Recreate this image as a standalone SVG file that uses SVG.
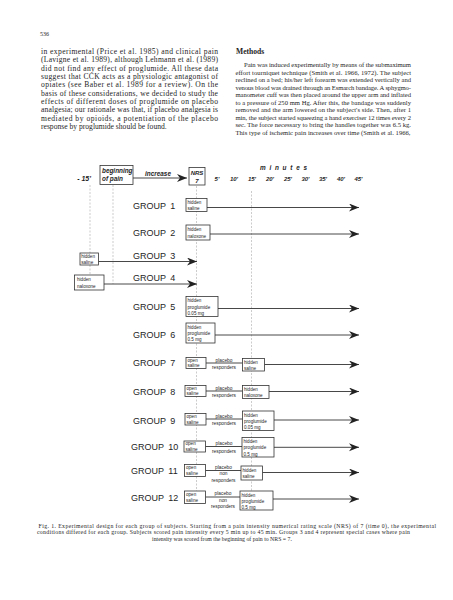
<svg xmlns="http://www.w3.org/2000/svg" width="453" height="600" viewBox="0 0 453 600">
<defs>
<marker id="ah" markerUnits="userSpaceOnUse" markerWidth="11" markerHeight="9" refX="10" refY="4" orient="auto">
<path d="M0,0 L10,4 L0,8 L3,4 Z" fill="#222"/>
</marker>
</defs>
<style>
.body{font-family:"Liberation Serif","Times New Roman",serif;fill:#1e1e1e}
.lc{font-size:7.6px}
.rc{font-size:6.6px}
.cap{font-size:5.8px}
.hd{font-family:"Liberation Sans",Arial,sans-serif;font-weight:bold;font-style:italic;fill:#1e1e1e}
.grp{font-family:"Liberation Sans",Arial,sans-serif;font-size:9px;fill:#1e1e1e;word-spacing:2px}
.bx{fill:#fff;stroke:#333;stroke-width:0.8}
.bt{font-family:"Liberation Sans",Arial,sans-serif;font-size:4.6px;fill:#1e1e1e}
.pt{font-family:"Liberation Sans",Arial,sans-serif;font-size:4.8px;fill:#1e1e1e;text-anchor:middle}
.ln{stroke:#333;stroke-width:0.9;fill:none}
.ar{stroke:#333;stroke-width:0.9;fill:none;marker-end:url(#ah)}
.dl{stroke:#aaa;stroke-width:0.6;stroke-dasharray:2,1.5;fill:none}
</style>
<rect width="453" height="600" fill="#fff"/>

<!-- page text -->
<text class="body" x="40" y="35.5" font-size="6">536</text>
<g class="body lc">
<text x="41" y="54" textLength="177" lengthAdjust="spacing">in experimental (Price et al. 1985) and clinical pain</text>
<text x="41" y="62.3" textLength="177" lengthAdjust="spacing">(Lavigne et al. 1989), although Lehmann et al. (1989)</text>
<text x="41" y="70.7" textLength="177" lengthAdjust="spacing">did not find any effect of proglumide. All these data</text>
<text x="41" y="79" textLength="177" lengthAdjust="spacing">suggest that CCK acts as a physiologic antagonist of</text>
<text x="41" y="87.3" textLength="177" lengthAdjust="spacing">opiates (see Baber et al. 1989 for a review). On the</text>
<text x="41" y="95.7" textLength="177" lengthAdjust="spacing">basis of these considerations, we decided to study the</text>
<text x="41" y="104" textLength="177" lengthAdjust="spacing">effects of different doses of proglumide on placebo</text>
<text x="41" y="112.3" textLength="177" lengthAdjust="spacing">analgesia; our rationale was that, if placebo analgesia is</text>
<text x="41" y="120.7" textLength="177" lengthAdjust="spacing">mediated by opioids, a potentiation of the placebo</text>
<text x="41" y="129">response by proglumide should be found.</text>
</g>
<text class="body" x="236" y="54" font-size="7.6" font-weight="bold">Methods</text>
<g class="body rc">
<text x="244" y="67" textLength="167" lengthAdjust="spacing">Pain was induced experimentally by means of the submaximum</text>
<text x="235.5" y="74.5" textLength="175.5" lengthAdjust="spacing">effort tourniquet technique (Smith et al. 1966, 1972). The subject</text>
<text x="235.5" y="82" textLength="175.5" lengthAdjust="spacing">reclined on a bed; his/her left forearm was extended vertically and</text>
<text x="235.5" y="89.5" textLength="175.5" lengthAdjust="spacing">venous blood was drained through an Esmarch bandage. A sphygmo-</text>
<text x="235.5" y="97" textLength="175.5" lengthAdjust="spacing">manometer cuff was then placed around the upper arm and inflated</text>
<text x="235.5" y="104.5" textLength="175.5" lengthAdjust="spacing">to a pressure of 250 mm Hg. After this, the bandage was suddenly</text>
<text x="235.5" y="112" textLength="175.5" lengthAdjust="spacing">removed and the arm lowered on the subject's side. Then, after 1</text>
<text x="235.5" y="119.5" textLength="175.5" lengthAdjust="spacing">min, the subject started squeezing a hand exerciser 12 times every 2</text>
<text x="235.5" y="127" textLength="175.5" lengthAdjust="spacing">sec. The force necessary to bring the handles together was 6.5 kg.</text>
<text x="235.5" y="134.5" textLength="175" lengthAdjust="spacing">This type of ischemic pain increases over time (Smith et al. 1966,</text>
</g>

<!-- connectors -->
<g id="connectors">
<path class="dl" d="M90,185 V253 M90,265 V275 M113,185 V284 M196.5,186 V491 M251.5,191 V491"/>
<path class="ar" d="M133,178 H187"/>
<path class="ar" d="M207,207.5 H359"/>
<path class="ar" d="M210,234 H359"/>
<path class="ar" d="M98.5,261.5 H197"/>
<path class="ar" d="M104,284 H197"/>
<path class="ar" d="M218,308.5 H359"/>
<path class="ar" d="M215,335 H359"/>
<path class="ln" d="M206,363 H242.5"/>
<path class="ar" d="M264.5,364.5 H359"/>
<path class="ln" d="M206,391 H242.5"/>
<path class="ar" d="M269,391.5 H359"/>
<path class="ln" d="M206,419 H242.5"/>
<path class="ar" d="M274,420 H359"/>
<path class="ln" d="M205.5,446.5 H242"/>
<path class="ar" d="M274,447.3 H359"/>
<path class="ln" d="M205.5,470.5 H241"/>
<path class="ar" d="M262.5,472.5 H359"/>
<path class="ln" d="M205.5,497 H240"/>
<path class="ar" d="M273,499 H359"/>
</g>

<!-- header -->
<g id="header">
<text class="hd" x="84" y="180.5" font-size="7" text-anchor="middle">- 15'</text>
<g id="beginning">
<rect class="bx" x="100" y="165.5" width="33" height="19"/>
<text class="hd" x="102" y="173" font-size="6.4">beginning</text>
<text class="hd" x="102" y="181" font-size="6.4">of pain</text>
</g>
<text class="hd" x="145" y="175.5" font-size="6.4">increase</text>
<g id="nrs">
<rect class="bx" x="189" y="167.5" width="16" height="17.5"/>
<text class="hd" x="197" y="174.5" font-size="6" text-anchor="middle">NRS</text>
<text class="hd" x="197" y="182.5" font-size="6" text-anchor="middle">7</text>
</g>
<text class="hd" x="260" y="170" font-size="6.4" textLength="47" lengthAdjust="spacing">minutes</text>
<g class="hd" font-size="6" text-anchor="middle">
<text x="217" y="180.5">5'</text>
<text x="234" y="180.5">10'</text>
<text x="252" y="180.5">15'</text>
<text x="270" y="180.5">20'</text>
<text x="288" y="180.5">25'</text>
<text x="305.5" y="180.5">30'</text>
<text x="323" y="180.5">35'</text>
<text x="341" y="180.5">40'</text>
<text x="358.5" y="180.5">45'</text>
</g>
</g>

<!-- groups -->
<g id="group1">
<text class="grp" x="133" y="208.5">GROUP 1</text>
<rect class="bx" x="186" y="198.5" width="21" height="13"/>
<text class="bt" x="187.5" y="203.8">hidden</text><text class="bt" x="187.5" y="209.8">saline</text>
</g>
<g id="group2">
<text class="grp" x="133" y="236">GROUP 2</text>
<rect class="bx" x="186" y="225" width="24" height="15"/>
<text class="bt" x="187.5" y="231">hidden</text><text class="bt" x="187.5" y="237.5">naloxone</text>
</g>
<g id="group3">
<text class="grp" x="133" y="258.5">GROUP 3</text>
<rect class="bx" x="80" y="253" width="18.5" height="12"/>
<text class="bt" x="81.2" y="258">hidden</text><text class="bt" x="81.2" y="263.7">saline</text>
</g>
<g id="group4">
<text class="grp" x="133" y="280.5">GROUP 4</text>
<rect class="bx" x="74.5" y="275" width="29.5" height="15"/>
<text class="bt" x="77" y="281">hidden</text><text class="bt" x="77" y="287.5">naloxone</text>
</g>
<g id="group5">
<text class="grp" x="133" y="310">GROUP 5</text>
<rect class="bx" x="186" y="296.5" width="32" height="20"/>
<text class="bt" x="187.5" y="302">hidden</text><text class="bt" x="187.5" y="308.5">proglumide</text><text class="bt" x="187.5" y="314.8">0.05 mg</text>
</g>
<g id="group6">
<text class="grp" x="133" y="337.5">GROUP 6</text>
<rect class="bx" x="186" y="323" width="29" height="20"/>
<text class="bt" x="187.5" y="328.5">hidden</text><text class="bt" x="187.5" y="335">proglumide</text><text class="bt" x="187.5" y="341.3">0.5 mg</text>
</g>
<g id="group7">
<text class="grp" x="133" y="366">GROUP 7</text>
<rect class="bx" x="186" y="357.5" width="20" height="11"/>
<text class="bt" x="187.5" y="361.5">open</text><text class="bt" x="187.5" y="367.3">saline</text>
<text class="pt" x="224" y="361.8">placebo</text><text class="pt" x="224" y="369">responders</text>
<rect class="bx" x="242.5" y="358.5" width="22" height="12.5"/>
<text class="bt" x="244" y="363.5">hidden</text><text class="bt" x="244" y="369.5">saline</text>
</g>
<g id="group8">
<text class="grp" x="133" y="395">GROUP 8</text>
<rect class="bx" x="185" y="385.5" width="21" height="11"/>
<text class="bt" x="186.5" y="389.5">open</text><text class="bt" x="186.5" y="395.3">saline</text>
<text class="pt" x="224" y="389.8">placebo</text><text class="pt" x="224" y="397">responders</text>
<rect class="bx" x="242.5" y="385.5" width="26.5" height="13"/>
<text class="bt" x="244" y="390.8">hidden</text><text class="bt" x="244" y="397">naloxone</text>
</g>
<g id="group9">
<text class="grp" x="133" y="423.5">GROUP 9</text>
<rect class="bx" x="185" y="413.5" width="21" height="11.5"/>
<text class="bt" x="186.5" y="417.6">open</text><text class="bt" x="186.5" y="423.6">saline</text>
<text class="pt" x="224" y="417.8">placebo</text><text class="pt" x="224" y="425">responders</text>
<rect class="bx" x="242.5" y="411" width="31.5" height="19.5"/>
<text class="bt" x="244" y="416.5">hidden</text><text class="bt" x="244" y="422.8">proglumide</text><text class="bt" x="244" y="429">0.05 mg</text>
</g>
<g id="group10">
<text class="grp" x="131" y="450">GROUP 10</text>
<rect class="bx" x="184" y="441" width="21.5" height="11"/>
<text class="bt" x="185.5" y="445">open</text><text class="bt" x="185.5" y="450.8">saline</text>
<text class="pt" x="224" y="445.3">placebo</text><text class="pt" x="224" y="452.5">responders</text>
<rect class="bx" x="242" y="437.5" width="32" height="19.5"/>
<text class="bt" x="243.5" y="443">hidden</text><text class="bt" x="243.5" y="449.3">proglumide</text><text class="bt" x="243.5" y="455.5">0.5 mg</text>
</g>
<g id="group11">
<text class="grp" x="131" y="474">GROUP 11</text>
<rect class="bx" x="184.5" y="464.5" width="21" height="12"/>
<text class="bt" x="186" y="468.8">open</text><text class="bt" x="186" y="475">saline</text>
<text class="pt" x="223.5" y="468.8">placebo</text><text class="pt" x="223.5" y="475">non</text><text class="pt" x="223.5" y="481.5">responders</text>
<rect class="bx" x="241" y="466" width="21.5" height="14"/>
<text class="bt" x="242.5" y="471.8">hidden</text><text class="bt" x="242.5" y="478.2">saline</text>
</g>
<g id="group12">
<text class="grp" x="131" y="501">GROUP 12</text>
<rect class="bx" x="184.5" y="491" width="21" height="12.5"/>
<text class="bt" x="186" y="495.5">open</text><text class="bt" x="186" y="501.8">saline</text>
<text class="pt" x="223" y="495.3">placebo</text><text class="pt" x="223" y="501.5">non</text><text class="pt" x="223" y="508">responders</text>
<rect class="bx" x="240" y="491" width="33" height="19"/>
<text class="bt" x="241.5" y="496.5">hidden</text><text class="bt" x="241.5" y="502.7">proglumide</text><text class="bt" x="241.5" y="508.8">0.5 mg</text>
</g>

<!-- caption -->
<g class="body cap">
<text x="38.5" y="528" textLength="397.5" lengthAdjust="spacing">Fig. 1. Experimental design for each group of subjects. Starting from a pain intensity numerical rating scale (NRS) of 7 (time 0), the experimental</text>
<text x="37" y="533.8" textLength="373" lengthAdjust="spacing">conditions differed for each group. Subjects scored pain intensity every 5 min up to 45 min. Groups 3 and 4 represent special cases where pain</text>
<text x="222" y="541" text-anchor="middle">intensity was scored from the beginning of pain to NRS = 7.</text>
</g>
</svg>
